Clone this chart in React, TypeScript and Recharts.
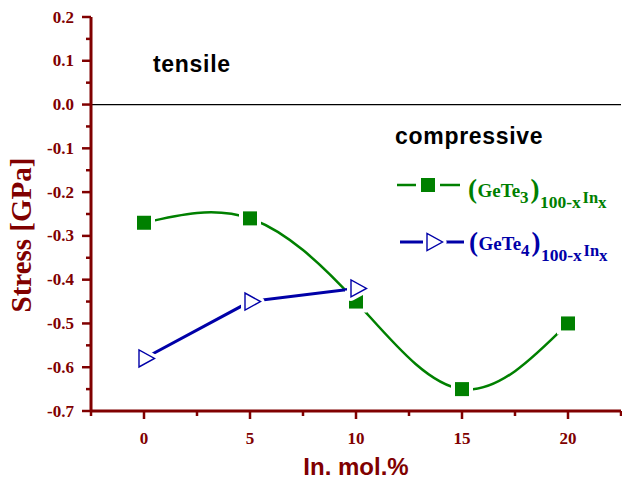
import React from 'react';
import { LineChart, Line, XAxis, YAxis, ReferenceLine, Customized } from 'recharts';

const xValues = [0, 5, 10, 15, 20];
const gete3Stress = [-0.27, -0.26, -0.45, -0.65, -0.5];
const gete4X = [0, 5, 10];
const gete4Stress = [-0.58, -0.45, -0.42];
const xTicks = [-2.5, 0, 2.5, 5, 7.5, 10, 12.5, 15, 17.5, 20, 22.5];
const xMajorTicks = [0, 5, 10, 15, 20];
const yTicks = [0.2, 0.15, 0.1, 0.05, 0, -0.05, -0.1, -0.15, -0.2, -0.25, -0.3, -0.35, -0.4, -0.45, -0.5, -0.55, -0.6, -0.65, -0.7];
const yMajorTicks = [0.2, 0.1, 0, -0.1, -0.2, -0.3, -0.4, -0.5, -0.6, -0.7];

const gete3Data = xValues.map((x, i) => ({ x, y: gete3Stress[i] }));
const gete4Data = gete4X.map((x, i) => ({ x, y: gete4Stress[i] }));

const AXIS = '#800000';
const GREEN = '#008000';
const BLUE = '#0000A8';
const SERIF = '"Liberation Serif", "Times New Roman", serif';
const SANS = '"Liberation Sans", Arial, sans-serif';

const isMajor = (v: number, majors: number[]) => majors.some((m) => Math.abs(m - v) < 1e-6);

const XTick = (props: any) => {
  const { x, y, payload } = props;
  const v = payload.value;
  const major = isMajor(v, xMajorTicks);
  return (
    <g>
      <line x1={x} x2={x} y1={y} y2={y + (major ? 8 : 5)} stroke={AXIS} strokeWidth={2.5} />
      {major && (
        <text x={x} y={y + 33} textAnchor="middle" fill={AXIS} fontFamily={SERIF} fontWeight="bold" fontSize={17}>
          {String(v)}
        </text>
      )}
    </g>
  );
};

const YTick = (props: any) => {
  const { x, y, payload } = props;
  const v = payload.value;
  const major = isMajor(v, yMajorTicks);
  return (
    <g>
      <line x1={x - (major ? 9 : 5)} x2={x} y1={y} y2={y} stroke={AXIS} strokeWidth={2.5} />
      {major && (
        <text x={x - 17} y={y + 5.5} textAnchor="end" fill={AXIS} fontFamily={SERIF} fontWeight="bold" fontSize={17}>
          {Math.abs(v) < 1e-9 ? '0.0' : v.toFixed(1)}
        </text>
      )}
    </g>
  );
};

const GreenSquare = (props: any) => {
  const { cx, cy, index } = props;
  if (cx == null || cy == null) return <g key={`g${index}`} />;
  return (
    <g key={`g${index}`}>
      <rect x={cx - 11} y={cy - 11} width={22} height={22} fill="#fff" />
      <rect x={cx - 7} y={cy - 7} width={14} height={14} fill={GREEN} />
    </g>
  );
};

const triPoints = (cx: number, cy: number) =>
  `${cx - 5},${cy - 8.5} ${cx - 5},${cy + 8.5} ${cx + 10.5},${cy}`;

const BlueTriangle = (props: any) => {
  const { cx, cy, index } = props;
  if (cx == null || cy == null) return <g key={`b${index}`} />;
  return (
    <g key={`b${index}`}>
      <polygon points={triPoints(cx, cy)} fill="#fff" stroke="#fff" strokeWidth={8} strokeLinejoin="round" />
      <polygon points={triPoints(cx, cy)} fill="#fff" stroke={BLUE} strokeWidth={1.4} />
    </g>
  );
};

const LegendLabel = ({ x, base, color, n }: { x: number; base: number; color: string; n: string }) => (
  <g fill={color} fontFamily={SERIF} fontWeight="bold">
    <text x={x} y={base + 1} fontSize={27}>(</text>
    <text x={x + 9.5} y={base} fontSize={19}>GeTe</text>
    <text x={x + 52} y={base + 6} fontSize={17}>{n}</text>
    <text x={x + 62.5} y={base + 1} fontSize={27}>)</text>
    <text x={x + 72} y={base + 10.5} fontSize={17.5}>100-x</text>
    <text x={x + 114.5} y={base + 6} fontSize={16.5}>In</text>
    <text x={x + 130} y={base + 10.5} fontSize={17}>x</text>
  </g>
);

const Annotations = () => (
  <g>
    <text x={153} y={72} fontFamily={SANS} fontWeight="bold" fontSize={23} letterSpacing={0.7} fill="#000">
      tensile
    </text>
    <text x={395} y={144} fontFamily={SANS} fontWeight="bold" fontSize={23} letterSpacing={0.7} fill="#000">
      compressive
    </text>
    {/* legend entry 1 */}
    <line x1={397} x2={460} y1={185} y2={185} stroke={GREEN} strokeWidth={2.5} />
    <rect x={416} y={178} width={24} height={14} fill="#fff" />
    <rect x={421} y={178} width={14} height={14} fill={GREEN} />
    <LegendLabel x={468} base={197} color={GREEN} n="3" />
    {/* legend entry 2 */}
    <line x1={400} x2={464} y1={242} y2={242} stroke={BLUE} strokeWidth={3} />
    <polygon points={triPoints(432, 242)} fill="#fff" stroke="#fff" strokeWidth={8} strokeLinejoin="round" />
    <polygon points={triPoints(432, 242)} fill="#fff" stroke={BLUE} strokeWidth={1.4} />
    <LegendLabel x={469} base={250} color={BLUE} n="4" />
    {/* axis titles */}
    <text
      x={31}
      y={235}
      transform="rotate(-90 31 235)"
      textAnchor="middle"
      fontFamily={SERIF}
      fontWeight="bold"
      fontSize={29}
      fill={AXIS}
    >
      Stress [GPa]
    </text>
    <text x={356} y={475} textAnchor="middle" fontFamily={SANS} fontWeight="bold" fontSize={24} fill={AXIS}>
      In. mol.%
    </text>
  </g>
);

export default function App() {
  return (
    <div style={{ position: 'absolute', left: 0, top: 0, width: 622, height: 481, background: '#fff' }}>
      <LineChart width={622} height={481} margin={{ top: 17, right: 1, bottom: 30, left: 0 }}>
        <XAxis
          type="number"
          dataKey="x"
          domain={[-2.5, 22.5]}
          ticks={xTicks}
          interval={0}
          allowDataOverflow
          height={40}
          tickSize={0}
          tickMargin={0}
          tickLine={false}
          axisLine={{ stroke: AXIS, strokeWidth: 3 }}
          tick={<XTick />}
        />
        <YAxis
          type="number"
          dataKey="y"
          domain={[-0.7, 0.2]}
          ticks={yTicks}
          interval={0}
          allowDataOverflow
          width={91}
          tickSize={0}
          tickMargin={0}
          tickLine={false}
          axisLine={{ stroke: AXIS, strokeWidth: 3 }}
          tick={<YTick />}
        />
        <ReferenceLine y={0} stroke="#000" strokeWidth={1.2} />
        <Line
          data={gete3Data}
          dataKey="y"
          type="natural"
          stroke={GREEN}
          strokeWidth={2.5}
          dot={GreenSquare}
          activeDot={false}
          isAnimationActive={false}
        />
        <Line
          data={gete4Data}
          dataKey="y"
          type="linear"
          stroke={BLUE}
          strokeWidth={3}
          dot={BlueTriangle}
          activeDot={false}
          isAnimationActive={false}
        />
        <Customized component={Annotations} />
      </LineChart>
    </div>
  );
}
